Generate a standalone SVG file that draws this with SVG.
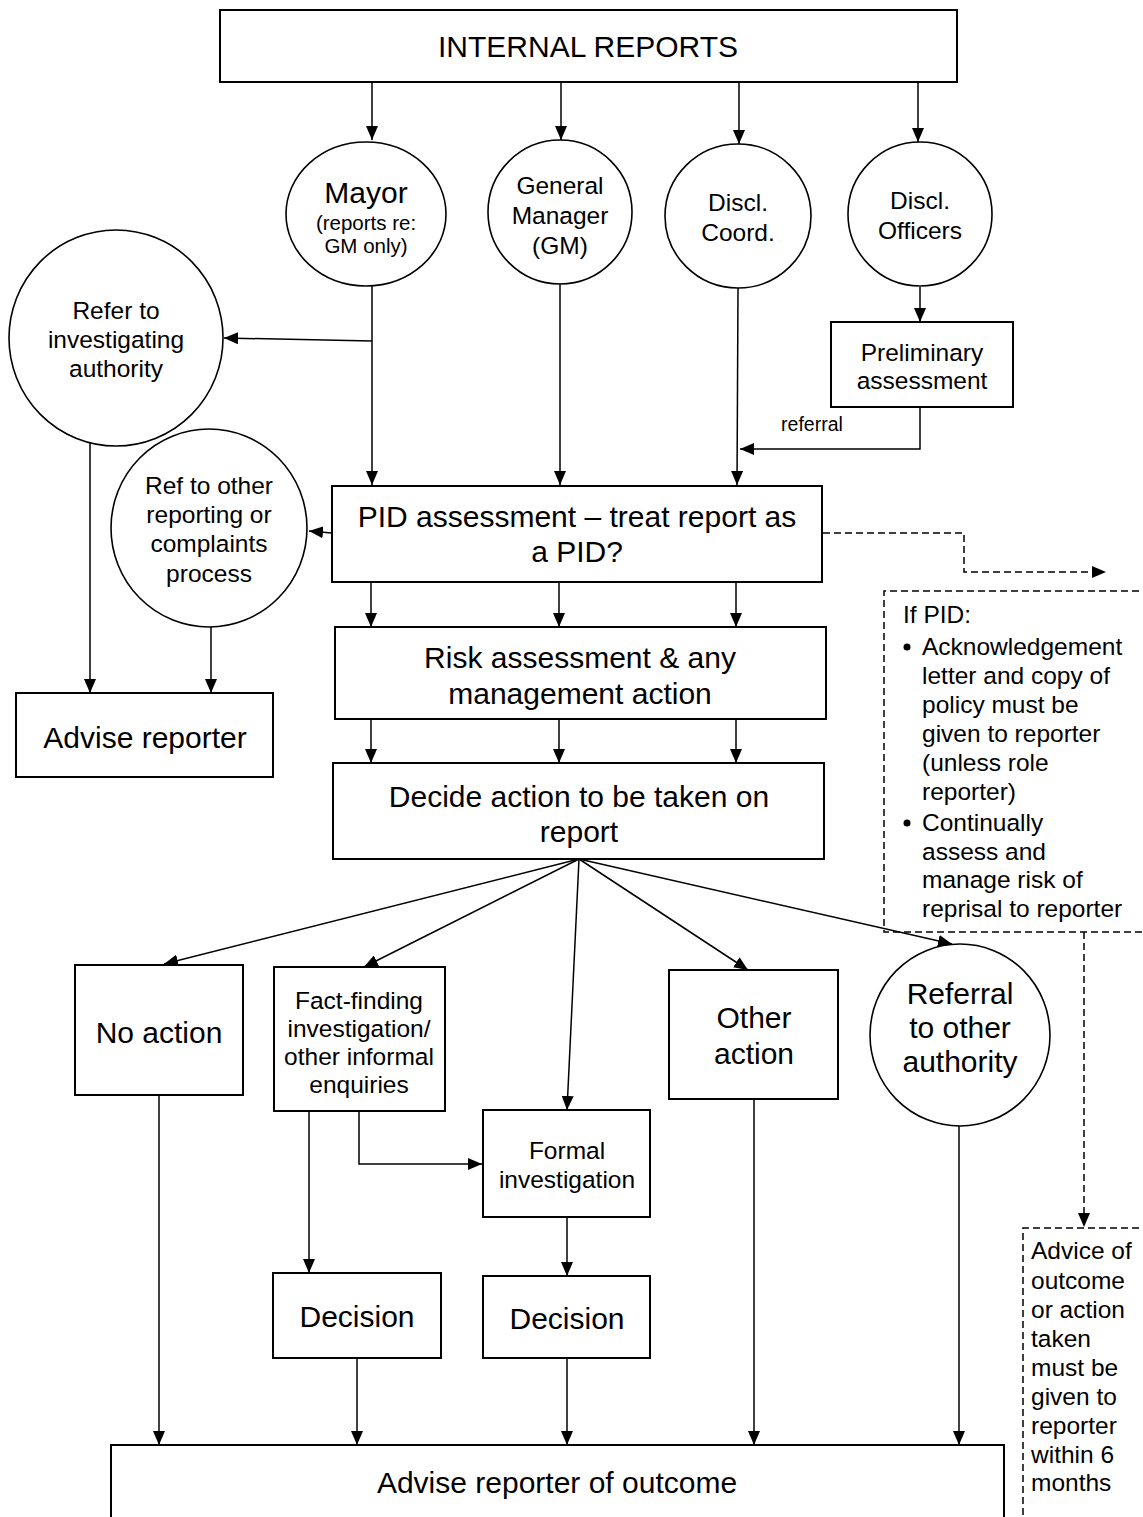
<svg xmlns="http://www.w3.org/2000/svg" width="1143" height="1517" viewBox="0 0 1143 1517">
<defs>
<marker id="ah" markerUnits="userSpaceOnUse" markerWidth="16" markerHeight="12" refX="14" refY="6" orient="auto">
<path d="M0,0 L14,6 L0,12 Z" fill="#000"/>
</marker>
<style>
text{font-family:"Liberation Sans",Arial,sans-serif;fill:#000;text-anchor:middle}
.box{fill:#fff;stroke:#000;stroke-width:2}
.el{fill:#fff;stroke:#000;stroke-width:1.6}
.c{fill:none;stroke:#000;stroke-width:1.5;marker-end:url(#ah)}
.d{fill:none;stroke:#000;stroke-width:1.5;stroke-dasharray:7 4}
.L{font-size:30px}
.M{font-size:24.5px}
.S{font-size:20.5px}
.l{text-anchor:start}
</style>
</defs>
<rect width="1143" height="1517" fill="#fff"/>

<g id="connectors">
<line class="c" x1="372" y1="82" x2="372" y2="140"/>
<line class="c" x1="561" y1="82" x2="561" y2="140"/>
<line class="c" x1="739" y1="82" x2="739" y2="144"/>
<line class="c" x1="918" y1="82" x2="918" y2="142"/>
<line class="c" x1="372" y1="286" x2="372" y2="485"/>
<line class="c" x1="372" y1="341" x2="224" y2="338"/>
<line class="c" x1="560" y1="284" x2="560" y2="485"/>
<line class="c" x1="738" y1="288" x2="737" y2="485"/>
<line class="c" x1="920" y1="287" x2="920" y2="322"/>
<polyline class="c" points="920,407 920,449 740,449"/>
<line class="c" x1="332" y1="533" x2="309" y2="531"/>
<line class="c" x1="90" y1="433" x2="90" y2="693"/>
<line class="c" x1="211" y1="627" x2="211" y2="693"/>
<line class="c" x1="371" y1="582" x2="371" y2="627"/>
<line class="c" x1="559" y1="582" x2="559" y2="627"/>
<line class="c" x1="736" y1="582" x2="736" y2="627"/>
<line class="c" x1="371" y1="719" x2="371" y2="763"/>
<line class="c" x1="559" y1="719" x2="559" y2="763"/>
<line class="c" x1="736" y1="719" x2="736" y2="763"/>
<line class="c" x1="579" y1="859" x2="164" y2="964"/>
<line class="c" x1="579" y1="859" x2="364" y2="967"/>
<line class="c" x1="579" y1="859" x2="567" y2="1110"/>
<line class="c" x1="579" y1="859" x2="748" y2="970"/>
<line class="c" x1="579" y1="859" x2="952" y2="944"/>
<polyline class="c" points="359,1111 359,1164 482,1164"/>
<line class="c" x1="309" y1="1111" x2="309" y2="1273"/>
<line class="c" x1="567" y1="1217" x2="567" y2="1276"/>
<line class="c" x1="159" y1="1095" x2="159" y2="1445"/>
<line class="c" x1="357" y1="1358" x2="357" y2="1445"/>
<line class="c" x1="567" y1="1358" x2="567" y2="1445"/>
<line class="c" x1="754" y1="1099" x2="754" y2="1445"/>
<line class="c" x1="959" y1="1126" x2="959" y2="1445"/>
<polyline class="d" points="823,533 964,533 964,572 1092,572"/>
<path d="M1092,566 L1106,572 L1092,578 Z" fill="#000"/>
<line class="d" x1="1084" y1="932" x2="1084" y2="1213"/>
<path d="M1078,1213 L1084,1227 L1090,1213 Z" fill="#000"/>
</g>

<g id="internal-reports">
<rect class="box" x="220" y="10" width="737" height="72"/>
<text class="L" x="588" y="57">INTERNAL REPORTS</text>
</g>

<g id="mayor">
<ellipse class="el" cx="366" cy="214" rx="80" ry="72"/>
<text class="L" x="366" y="203">Mayor</text>
<text class="S" x="366" y="230">(reports re:</text>
<text class="S" x="366" y="253">GM only)</text>
</g>

<g id="general-manager">
<ellipse class="el" cx="560" cy="212" rx="72" ry="72"/>
<text class="M" x="560" y="194">General</text>
<text class="M" x="560" y="224">Manager</text>
<text class="M" x="560" y="254">(GM)</text>
</g>

<g id="discl-coord">
<ellipse class="el" cx="738" cy="216" rx="73" ry="72"/>
<text class="M" x="738" y="211">Discl.</text>
<text class="M" x="738" y="241">Coord.</text>
</g>

<g id="discl-officers">
<ellipse class="el" cx="920" cy="214" rx="72" ry="72"/>
<text class="M" x="920" y="209">Discl.</text>
<text class="M" x="920" y="239">Officers</text>
</g>

<g id="refer-investigating">
<ellipse class="el" cx="116" cy="338" rx="107" ry="108"/>
<text class="M" x="116" y="319">Refer to</text>
<text class="M" x="116" y="348">investigating</text>
<text class="M" x="116" y="377">authority</text>
</g>

<g id="preliminary">
<rect class="box" x="831" y="322" width="182" height="85"/>
<text class="M" x="922" y="361">Preliminary</text>
<text class="M" x="922" y="389">assessment</text>
</g>

<g id="referral-label">
<text x="812" y="431" style="font-size:19.5px">referral</text>
</g>

<g id="pid-assessment">
<rect class="box" x="332" y="486" width="490" height="96"/>
<text class="L" x="577" y="527">PID assessment – treat report as</text>
<text class="L" x="577" y="562">a PID?</text>
</g>

<g id="ref-other">
<ellipse class="el" cx="209" cy="528" rx="98" ry="99"/>
<text class="M" x="209" y="494">Ref to other</text>
<text class="M" x="209" y="523">reporting or</text>
<text class="M" x="209" y="552">complaints</text>
<text class="M" x="209" y="582">process</text>
</g>

<g id="advise-reporter">
<rect class="box" x="16" y="693" width="257" height="84"/>
<text class="L" x="145" y="748">Advise reporter</text>
</g>

<g id="risk">
<rect class="box" x="335" y="627" width="491" height="92"/>
<text class="L" x="580" y="668">Risk assessment &amp; any</text>
<text class="L" x="580" y="704">management action</text>
</g>

<g id="decide">
<rect class="box" x="333" y="763" width="491" height="96"/>
<text class="L" x="579" y="807">Decide action to be taken on</text>
<text class="L" x="579" y="842">report</text>
</g>

<g id="if-pid">
<path class="d" d="M1150,591 L884,591 L884,932 L1150,932"/>
<text class="M l" x="903" y="623">If PID:</text>
<circle cx="907" cy="647" r="3.5" fill="#000"/>
<text class="M l" x="922" y="655">Acknowledgement</text>
<text class="M l" x="922" y="684">letter and copy of</text>
<text class="M l" x="922" y="713">policy must be</text>
<text class="M l" x="922" y="742">given to reporter</text>
<text class="M l" x="922" y="771">(unless role</text>
<text class="M l" x="922" y="800">reporter)</text>
<circle cx="907" cy="823" r="3.5" fill="#000"/>
<text class="M l" x="922" y="831">Continually</text>
<text class="M l" x="922" y="860">assess and</text>
<text class="M l" x="922" y="888">manage risk of</text>
<text class="M l" x="922" y="917">reprisal to reporter</text>
</g>

<g id="no-action">
<rect class="box" x="75" y="965" width="168" height="130"/>
<text class="L" x="159" y="1043">No action</text>
</g>

<g id="fact-finding">
<rect class="box" x="274" y="967" width="171" height="144"/>
<text class="M" x="359" y="1009">Fact-finding</text>
<text class="M" x="359" y="1037">investigation/</text>
<text class="M" x="359" y="1065">other informal</text>
<text class="M" x="359" y="1093">enquiries</text>
</g>

<g id="other-action">
<rect class="box" x="669" y="970" width="169" height="129"/>
<text class="L" x="754" y="1028">Other</text>
<text class="L" x="754" y="1064">action</text>
</g>

<g id="referral-authority">
<ellipse class="el" cx="960" cy="1035" rx="90" ry="91"/>
<text class="L" x="960" y="1004">Referral</text>
<text class="L" x="960" y="1038">to other</text>
<text class="L" x="960" y="1072">authority</text>
</g>

<g id="formal-investigation">
<rect class="box" x="483" y="1110" width="167" height="107"/>
<text class="M" x="567" y="1159">Formal</text>
<text class="M" x="567" y="1188">investigation</text>
</g>

<g id="decision-1">
<rect class="box" x="273" y="1273" width="168" height="85"/>
<text class="L" x="357" y="1327">Decision</text>
</g>

<g id="decision-2">
<rect class="box" x="483" y="1276" width="167" height="82"/>
<text class="L" x="567" y="1329">Decision</text>
</g>

<g id="advise-outcome">
<rect class="box" x="111" y="1445" width="893" height="100"/>
<text class="L" x="557" y="1493">Advise reporter of outcome</text>
</g>

<g id="advice-6-months">
<path class="d" d="M1150,1228 L1023,1228 L1023,1530"/>
<text class="M l" x="1031" y="1259">Advice of</text>
<text class="M l" x="1031" y="1289">outcome</text>
<text class="M l" x="1031" y="1318">or action</text>
<text class="M l" x="1031" y="1347">taken</text>
<text class="M l" x="1031" y="1376">must be</text>
<text class="M l" x="1031" y="1405">given to</text>
<text class="M l" x="1031" y="1434">reporter</text>
<text class="M l" x="1031" y="1463">within 6</text>
<text class="M l" x="1031" y="1491">months</text>
</g>
</svg>
